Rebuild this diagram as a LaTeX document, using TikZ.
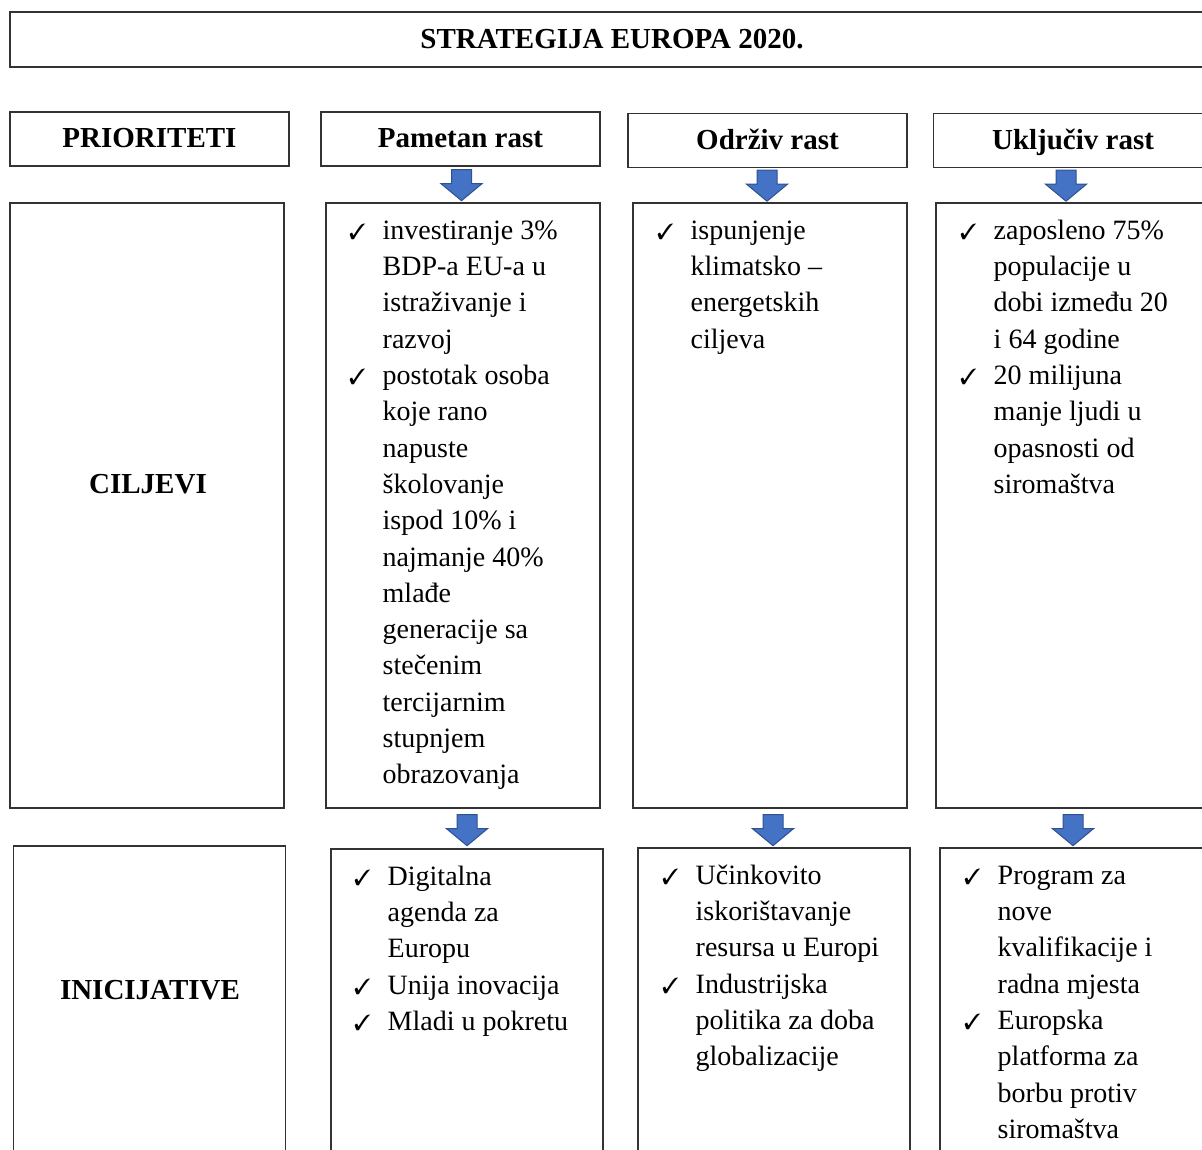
\documentclass[tikz,border=0pt]{standalone}
\usepackage{fontspec}
\setmainfont{Liberation Serif}
\usepackage{pifont}
\usetikzlibrary{calc}

\definecolor{arrowblue}{HTML}{4472C4}
\definecolor{arrowedge}{HTML}{2F528F}

\newcommand{\ck}{\llap{{\fontsize{11}{11}\selectfont\ding{51}}\hspace{8.5pt}}}
\newcommand{\bluearrow}[1]{\filldraw[blockarrow] (#1) ++(-10,0) -- ++(0,14) -- ++(-10.5,0) -- ++(20.5,17) -- ++(20.5,-17) -- ++(-10.5,0) -- ++(0,-14) -- cycle;}

\tikzset{
  box/.style={draw=black!80, line width=0.7pt, inner sep=0pt},
  headbox/.style={box, minimum width=139.5pt, minimum height=27pt, text height=11pt, text depth=2pt, font=\fontsize{14.5}{17}\selectfont\bfseries},
  tall/.style={box, minimum width=137pt, minimum height=302.5pt},
  rowname/.style={font=\fontsize{14.5}{17}\selectfont\bfseries},
  checklist/.style={anchor=base west, inner sep=0pt, font=\fontsize{14}{18.15}\selectfont},
  blockarrow/.style={fill=arrowblue, draw=arrowedge, line width=0.5pt, line join=miter}
}

\begin{document}
\begin{tikzpicture}[x=0.5pt,y=-0.5pt]
    \useasboundingbox (0,0) rectangle (1202,1149);
    \clip (0,0) rectangle (1202,1149);

    % naslov
    \node[box, minimum width=602pt, minimum height=27.5pt, text height=11pt, text depth=2pt, font=\fontsize{14.5}{17}\selectfont\bfseries] (naslov) at (612,39.5) {STRATEGIJA EUROPA 2020.};

    % prioriteti
    \node[headbox] (pri) at (149.5,139) {PRIORITETI};
    \node[headbox] (hpam) at (460.5,139) {Pametan rast};
    \node[headbox] (hodr) at (767.5,140.5) {Održiv rast};
    \node[headbox] (hukl) at (1073,140.5) {Uključiv rast};

    % ciljevi
    \node[tall] (cil) at (147,505.5) {};
    \node[tall] (cpam) at (463,505.5) {};
    \node[tall] (codr) at (770,505.5) {};
    \node[tall] (cukl) at (1073,505.5) {};
    \node[rowname] (cilt) at ($(cil.north)+(1,282)$) {CILJEVI};

    % inicijative
    \node[tall, minimum width=136pt] (ini) at (149.5,1148.5) {};
    \node[tall, minimum width=136pt] (ipam) at (467,1151.5) {};
    \node[tall, minimum width=136pt] (iodr) at (774,1150.5) {};
    \node[tall, minimum width=136pt] (iukl) at (1076,1150.5) {};
    \node[rowname] (init) at ($(ini.north)+(0.5,145)$) {INICIJATIVE};

    % strelice
    \bluearrow{$(hpam.south)+(1,3)$}
    \bluearrow{$(hodr.south)+(-0.5,2)$}
    \bluearrow{$(hukl.south)+(-7,2)$}
    \bluearrow{$(cpam.south)+(4,6)$}
    \bluearrow{$(codr.south)+(3,6)$}
    \bluearrow{$(cukl.south)+(0,6)$}

    % tekst ciljeva
    \node[checklist] (tcpam) at ($(cpam.north west)+(57,37)$) {\begin{tabular}[t]{@{}l@{}}
        \ck investiranje 3\%\\ BDP-a EU-a u\\ istraživanje i\\ razvoj\\
        \ck postotak osoba\\ koje rano\\ napuste\\ školovanje\\ ispod 10\% i\\
        najmanje 40\%\\ mlađe\\ generacije sa\\ stečenim\\ tercijarnim\\
        stupnjem\\ obrazovanja
    \end{tabular}};
    \node[checklist] (tcodr) at ($(codr.north west)+(58,37)$) {\begin{tabular}[t]{@{}l@{}}
        \ck ispunjenje\\ klimatsko –\\ energetskih\\ ciljeva
    \end{tabular}};
    \node[checklist] (tcukl) at ($(cukl.north west)+(58,37)$) {\begin{tabular}[t]{@{}l@{}}
        \ck zaposleno 75\%\\ populacije u\\ dobi između 20\\ i 64 godine\\
        \ck 20 milijuna\\ manje ljudi u\\ opasnosti od\\ siromaštva
    \end{tabular}};

    % tekst inicijativa
    \node[checklist] (tipam) at ($(ipam.north west)+(57,37)$) {\begin{tabular}[t]{@{}l@{}}
        \ck Digitalna\\ agenda za\\ Europu\\ \ck Unija inovacija\\ \ck Mladi u pokretu
    \end{tabular}};
    \node[checklist] (tiodr) at ($(iodr.north west)+(58,37)$) {\begin{tabular}[t]{@{}l@{}}
        \ck Učinkovito\\ iskorištavanje\\ resursa u Europi\\
        \ck Industrijska\\ politika za doba\\ globalizacije
    \end{tabular}};
    \node[checklist] (tiukl) at ($(iukl.north west)+(58,37)$) {\begin{tabular}[t]{@{}l@{}}
        \ck Program za\\ nove\\ kvalifikacije i\\ radna mjesta\\
        \ck Europska\\ platforma za\\ borbu protiv\\ siromaštva
    \end{tabular}};
\end{tikzpicture}
\end{document}
